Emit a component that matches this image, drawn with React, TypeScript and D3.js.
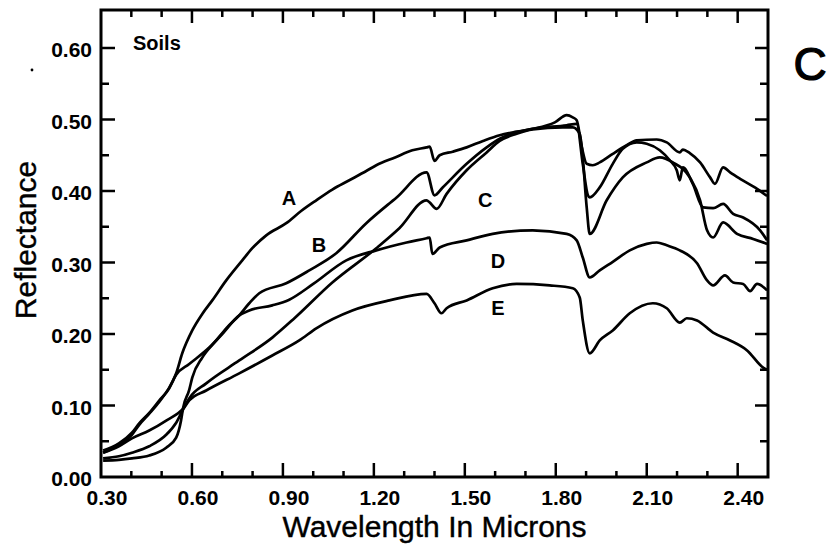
import React from "react";
import * as d3 from "d3";

// spectra: [wavelength (um), reflectance]
const soilA = [
  [0.307, 0.037], [0.359, 0.047], [0.402, 0.062], [0.426, 0.075], [0.46, 0.09],
  [0.492, 0.107], [0.525, 0.124], [0.548, 0.145], [0.568, 0.173], [0.601, 0.205],
  [0.634, 0.228], [0.667, 0.247], [0.713, 0.275], [0.766, 0.303], [0.799, 0.32],
  [0.845, 0.338], [0.911, 0.355], [0.96, 0.372], [1.01, 0.387], [1.063, 0.402],
  [1.119, 0.415], [1.175, 0.428], [1.208, 0.436], [1.27, 0.447], [1.327, 0.457],
  [1.374, 0.461], [1.384, 0.462], [1.4, 0.442], [1.417, 0.45], [1.46, 0.455],
  [1.506, 0.461], [1.56, 0.47], [1.615, 0.478], [1.67, 0.483], [1.724, 0.487],
  [1.797, 0.496], [1.836, 0.506], [1.856, 0.503], [1.869, 0.499], [1.886, 0.461],
  [1.902, 0.438], [1.922, 0.436], [1.945, 0.44], [1.988, 0.452], [2.034, 0.464],
  [2.067, 0.471], [2.133, 0.472], [2.166, 0.468], [2.209, 0.454], [2.219, 0.458],
  [2.242, 0.453], [2.276, 0.44], [2.309, 0.419], [2.325, 0.41], [2.352, 0.433],
  [2.375, 0.426], [2.408, 0.417], [2.464, 0.403], [2.497, 0.393],
];

const soilB = [
  [0.307, 0.023], [0.359, 0.024], [0.402, 0.026], [0.459, 0.03], [0.515, 0.041],
  [0.548, 0.055], [0.564, 0.079], [0.571, 0.097], [0.591, 0.122], [0.601, 0.139],
  [0.634, 0.167], [0.68, 0.191], [0.713, 0.208], [0.756, 0.226], [0.789, 0.243],
  [0.822, 0.257], [0.911, 0.271], [0.987, 0.289], [1.076, 0.313], [1.175, 0.355],
  [1.275, 0.391], [1.374, 0.426], [1.4, 0.394], [1.427, 0.405], [1.506, 0.438],
  [1.572, 0.461], [1.615, 0.473], [1.671, 0.482], [1.724, 0.487], [1.836, 0.492],
  [1.869, 0.494], [1.889, 0.438], [1.906, 0.394], [1.912, 0.391], [1.945, 0.405],
  [1.988, 0.438], [2.021, 0.459], [2.067, 0.468], [2.1, 0.466], [2.143, 0.457],
  [2.176, 0.443], [2.199, 0.429], [2.209, 0.415], [2.219, 0.433], [2.252, 0.41],
  [2.286, 0.377], [2.319, 0.376], [2.352, 0.382], [2.385, 0.368], [2.418, 0.363],
  [2.474, 0.345], [2.497, 0.331],
];

const soilC = [
  [0.307, 0.026], [0.359, 0.029], [0.402, 0.034], [0.459, 0.043], [0.515, 0.059],
  [0.548, 0.076], [0.574, 0.097], [0.591, 0.11], [0.647, 0.131], [0.756, 0.163],
  [0.865, 0.195], [0.938, 0.222], [1.063, 0.272], [1.208, 0.32], [1.284, 0.348],
  [1.374, 0.387], [1.384, 0.384], [1.407, 0.375], [1.44, 0.396], [1.506, 0.429],
  [1.572, 0.454], [1.615, 0.47], [1.671, 0.48], [1.724, 0.486], [1.823, 0.489],
  [1.856, 0.489], [1.879, 0.48], [1.886, 0.461], [1.902, 0.377], [1.912, 0.34],
  [1.968, 0.387], [2.021, 0.419], [2.1, 0.44], [2.143, 0.447], [2.186, 0.44],
  [2.242, 0.419], [2.276, 0.387], [2.299, 0.345], [2.319, 0.335], [2.352, 0.356],
  [2.398, 0.34], [2.451, 0.333], [2.497, 0.326],
];

const soilD = [
  [0.307, 0.034], [0.359, 0.045], [0.402, 0.059], [0.426, 0.073], [0.46, 0.089],
  [0.492, 0.105], [0.525, 0.125], [0.548, 0.143], [0.591, 0.158], [0.657, 0.181],
  [0.7, 0.2], [0.756, 0.226], [0.789, 0.233], [0.865, 0.24], [0.921, 0.248],
  [1.0, 0.27], [1.109, 0.303], [1.208, 0.317], [1.308, 0.328], [1.374, 0.334],
  [1.384, 0.335], [1.393, 0.312], [1.417, 0.321], [1.506, 0.331], [1.592, 0.34],
  [1.724, 0.345], [1.836, 0.34], [1.869, 0.331], [1.889, 0.307], [1.912, 0.279],
  [1.945, 0.289], [1.988, 0.301], [2.044, 0.317], [2.1, 0.326], [2.133, 0.328],
  [2.166, 0.324], [2.209, 0.317], [2.266, 0.299], [2.299, 0.275], [2.319, 0.268],
  [2.358, 0.282], [2.385, 0.272], [2.418, 0.27], [2.441, 0.26], [2.464, 0.27],
  [2.497, 0.261],
];

const soilE = [
  [0.307, 0.034], [0.359, 0.043], [0.402, 0.054], [0.459, 0.065], [0.515, 0.079],
  [0.574, 0.097], [0.591, 0.107], [0.647, 0.121], [0.756, 0.145], [0.865, 0.17],
  [0.954, 0.191], [1.01, 0.208], [1.129, 0.233], [1.251, 0.247], [1.374, 0.256],
  [1.4, 0.243], [1.423, 0.229], [1.44, 0.236], [1.506, 0.247], [1.592, 0.264],
  [1.671, 0.27], [1.78, 0.268], [1.856, 0.264], [1.879, 0.251], [1.889, 0.219],
  [1.912, 0.173], [1.945, 0.191], [1.988, 0.205], [2.044, 0.229], [2.12, 0.243],
  [2.166, 0.236], [2.209, 0.216], [2.232, 0.222], [2.266, 0.219], [2.319, 0.202],
  [2.375, 0.191], [2.431, 0.177], [2.484, 0.153], [2.497, 0.15],
];

const curveNames = ["A", "B", "C", "D", "E"];
// where each letter sits, in data units
const labelSpots = [
  [0.92, 0.39], [1.019, 0.324], [1.567, 0.387], [1.609, 0.302], [1.609, 0.236],
];

const xTicks = [0.3, 0.6, 0.9, 1.2, 1.5, 1.8, 2.1, 2.4];
const xMinor = [0.4, 0.5, 0.7, 0.8, 1.0, 1.1, 1.3, 1.4, 1.6, 1.7, 1.9, 2.0, 2.2, 2.3];
const yTicks = [0, 0.1, 0.2, 0.3, 0.4, 0.5, 0.6];
const yMinor = [0.05, 0.15, 0.25, 0.35, 0.45, 0.55];

const font = "'Liberation Sans', Arial, Helvetica, sans-serif";

const App = () => {
  const width = 830,
    height = 545;
  const left = 101,
    right = 768,
    top = 10,
    bottom = 477;

  const x = d3.scaleLinear().domain([0.3, 2.5]).range([left, right]);
  const y = d3
    .scaleLinear()
    .domain([0, (bottom - top) / 715])
    .range([bottom, top]);

  const line = d3
    .line<number[]>()
    .x((d) => x(d[0]))
    .y((d) => y(d[1]))
    .curve(d3.curveMonotoneX);

  const series = [soilA, soilB, soilC, soilD, soilE];

  return (
    <svg
      width={width}
      height={height}
      style={{ position: "absolute", left: 0, top: 0, background: "#fff" }}
    >
      {/* curves */}
      <g fill="none" stroke="#000" strokeWidth={2.7} strokeLinejoin="round">
        {series.map((s, i) => (
          <path key={curveNames[i]} d={line(s) || ""} />
        ))}
      </g>

      {/* frame */}
      <rect
        x={left}
        y={top}
        width={right - left}
        height={bottom - top}
        fill="none"
        stroke="#000"
        strokeWidth={3}
      />

      {/* ticks, all pointing inwards */}
      <g stroke="#000" strokeWidth={2.5}>
        {xTicks.slice(1).map((t) => (
          <g key={"xt" + t}>
            <line x1={x(t)} x2={x(t)} y1={bottom} y2={bottom - 14} />
            <line x1={x(t)} x2={x(t)} y1={top} y2={top + 13} />
          </g>
        ))}
        {xMinor.map((t) => (
          <g key={"xm" + t}>
            <line x1={x(t)} x2={x(t)} y1={bottom} y2={bottom - 6} />
            <line x1={x(t)} x2={x(t)} y1={top} y2={top + 7} />
          </g>
        ))}
        {yTicks.slice(1).map((t) => (
          <g key={"yt" + t}>
            <line x1={left} x2={left + 14} y1={y(t)} y2={y(t)} />
            <line x1={right} x2={right - 13} y1={y(t)} y2={y(t)} />
          </g>
        ))}
        {yMinor.map((t) => (
          <g key={"ym" + t}>
            <line x1={left} x2={left + 8} y1={y(t)} y2={y(t)} />
            <line x1={right} x2={right - 8} y1={y(t)} y2={y(t)} />
          </g>
        ))}
      </g>

      {/* tick labels */}
      <g fontFamily={font} fontWeight="bold" fontSize={21} fill="#000">
        {xTicks.map((t) => (
          <text key={"xl" + t} x={x(t) + 6} y={505} textAnchor="middle">
            {t.toFixed(2)}
          </text>
        ))}
        {yTicks.map((t) => (
          <text key={"yl" + t} x={92} y={y(t) + 9} textAnchor="end">
            {t.toFixed(2)}
          </text>
        ))}
      </g>

      {/* axis titles */}
      <text
        x={(left + right) / 2}
        y={537}
        textAnchor="middle"
        fontFamily={font}
        fontSize={30}
        stroke="#000"
        strokeWidth={0.4}
      >
        Wavelength In Microns
      </text>
      <text
        transform={`translate(36, 240) rotate(-90)`}
        textAnchor="middle"
        fontFamily={font}
        fontSize={30}
        stroke="#000"
        strokeWidth={0.4}
      >
        Reflectance
      </text>

      {/* annotations */}
      <text x={133} y={50} fontFamily={font} fontWeight="bold" fontSize={20}>
        Soils
      </text>
      <text
        x={810}
        y={80}
        textAnchor="middle"
        fontFamily={font}
        fontSize={46}
        stroke="#000"
        strokeWidth={1.2}
      >
        C
      </text>
      <circle cx={32} cy={70} r={1.4} fill="#000" />

      <g fontFamily={font} fontWeight="bold" fontSize={20} textAnchor="middle">
        {curveNames.map((n, i) => (
          <text
            key={"lab" + n}
            x={x(labelSpots[i][0])}
            y={y(labelSpots[i][1]) + 7}
          >
            {n}
          </text>
        ))}
      </g>
    </svg>
  );
};

export default App;
